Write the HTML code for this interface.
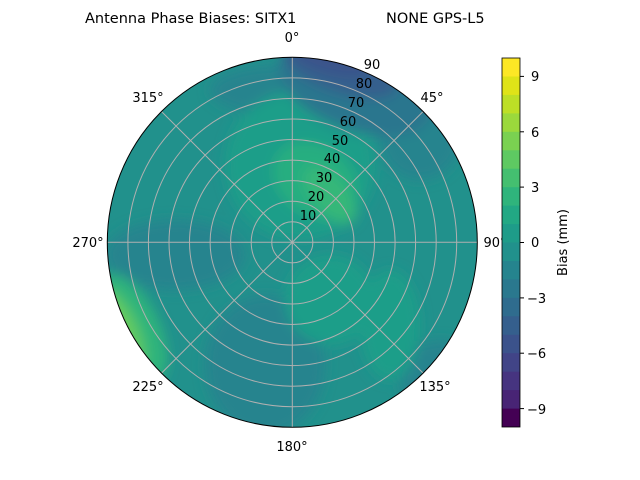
<!DOCTYPE html>
<html><head><style>body{margin:0;background:#fff}svg{display:block}text{font-family:"DejaVu Sans","Liberation Sans",sans-serif;font-size:13px;fill:#000}</style></head><body>
<svg width="640" height="480" viewBox="0 0 640 480">
<defs><clipPath id="c"><circle cx="292.3" cy="242.3" r="185"/></clipPath>
<filter id="b"><feGaussianBlur stdDeviation="6"/></filter></defs>
<g clip-path="url(#c)">
<rect x="100" y="50" width="390" height="390" fill="#21918c"/>
<g filter="url(#b)">
<ellipse cx="265" cy="365" rx="60" ry="70" fill="#25848e"/>
<ellipse cx="175" cy="255" rx="70" ry="35" fill="#25848e"/>
<ellipse cx="280" cy="90" rx="70" ry="25" fill="#25848e"/>
<ellipse cx="420" cy="140" rx="40" ry="40" fill="#25848e"/>
<ellipse cx="440" cy="380" rx="40" ry="40" fill="#25848e"/>
<ellipse cx="300" cy="165" rx="75" ry="75" fill="#1f9e89"/>
<ellipse cx="330" cy="300" rx="45" ry="45" fill="#1f9e89"/>
<ellipse cx="390" cy="325" rx="30" ry="55" fill="#1f9e89"/>
<ellipse cx="315" cy="180" rx="45" ry="35" transform="rotate(35 315 180)" fill="#28ae80"/>
<ellipse cx="330" cy="195" rx="35" ry="18" transform="rotate(50 330 195)" fill="#35b779"/>
<ellipse cx="355" cy="90" rx="80" ry="40" transform="rotate(20 355 90)" fill="#2a768e"/>
<ellipse cx="340" cy="70" rx="60" ry="22" transform="rotate(18 340 70)" fill="#355f8d"/>
<ellipse cx="330" cy="60" rx="40" ry="12" transform="rotate(15 330 60)" fill="#3b528b"/>
<ellipse cx="130" cy="330" rx="30" ry="60" transform="rotate(-25 130 330)" fill="#2fb47c"/>
<ellipse cx="120" cy="330" rx="18" ry="45" transform="rotate(-25 120 330)" fill="#5ec962"/>
<ellipse cx="112" cy="325" rx="10" ry="30" transform="rotate(-25 112 325)" fill="#7ad151"/>
</g>
</g>
<g stroke="#b0b0b0" stroke-width="1" fill="none">
<circle cx="292.3" cy="242.3" r="20.56"/><circle cx="292.3" cy="242.3" r="41.1"/><circle cx="292.3" cy="242.3" r="61.7"/><circle cx="292.3" cy="242.3" r="82.2"/><circle cx="292.3" cy="242.3" r="102.8"/><circle cx="292.3" cy="242.3" r="123.3"/><circle cx="292.3" cy="242.3" r="143.9"/><circle cx="292.3" cy="242.3" r="164.4"/>
<line x1="292.3" y1="57.3" x2="292.3" y2="427.3"/><line x1="107.3" y1="242.3" x2="477.3" y2="242.3"/>
<line x1="161.5" y1="111.5" x2="423.1" y2="373.1"/><line x1="423.1" y1="111.5" x2="161.5" y2="373.1"/>
</g>
<circle cx="292.3" cy="242.3" r="185" fill="none" stroke="#000" stroke-width="1"/>
<g text-anchor="middle">
<text x="292" y="42">0°</text><text x="432" y="102">45°</text><text x="495" y="247">90°</text><text x="435" y="391">135°</text><text x="292" y="451">180°</text><text x="148" y="391">225°</text><text x="88" y="247">270°</text><text x="148" y="102">315°</text>
<text x="308" y="220">10</text><text x="316" y="201">20</text><text x="324" y="182">30</text><text x="332" y="163">40</text><text x="340" y="145">50</text><text x="348" y="126">60</text><text x="356" y="107">70</text><text x="364" y="88">80</text><text x="372" y="69">90</text>
</g>
<text x="85" y="23" style="font-size:14.5px">Antenna Phase Biases: SITX1</text>
<text x="386" y="23" style="font-size:14.5px">NONE GPS-L5</text>
<g>
<rect x="502" y="58" width="18" height="19" fill="#fde725"/>
<rect x="502" y="76.5" width="18" height="19" fill="#dfe318"/>
<rect x="502" y="94.9" width="18" height="19" fill="#bddf26"/>
<rect x="502" y="113.4" width="18" height="19" fill="#9bd93c"/>
<rect x="502" y="131.8" width="18" height="19" fill="#7ad151"/>
<rect x="502" y="150.3" width="18" height="19" fill="#5ec962"/>
<rect x="502" y="168.7" width="18" height="19" fill="#44bf70"/>
<rect x="502" y="187.2" width="18" height="19" fill="#2fb47c"/>
<rect x="502" y="205.6" width="18" height="19" fill="#22a884"/>
<rect x="502" y="224.1" width="18" height="19" fill="#1e9c89"/>
<rect x="502" y="242.5" width="18" height="19" fill="#21918c"/>
<rect x="502" y="261" width="18" height="19" fill="#25848e"/>
<rect x="502" y="279.4" width="18" height="19" fill="#2a788e"/>
<rect x="502" y="297.9" width="18" height="19" fill="#2f6c8e"/>
<rect x="502" y="316.3" width="18" height="19" fill="#355f8d"/>
<rect x="502" y="334.8" width="18" height="19" fill="#3b528b"/>
<rect x="502" y="353.2" width="18" height="19" fill="#414487"/>
<rect x="502" y="371.7" width="18" height="19" fill="#463480"/>
<rect x="502" y="390.1" width="18" height="19" fill="#482475"/>
<rect x="502" y="408.6" width="18" height="18.4" fill="#440154"/>
<rect x="502" y="58" width="18" height="369" fill="none" stroke="#000" stroke-width="0.8"/>
</g>
<g stroke="#000"><line x1="520" y1="76.4" x2="524" y2="76.4"/><line x1="520" y1="131.8" x2="524" y2="131.8"/><line x1="520" y1="187.1" x2="524" y2="187.1"/><line x1="520" y1="242.5" x2="524" y2="242.5"/><line x1="520" y1="297.9" x2="524" y2="297.9"/><line x1="520" y1="353.2" x2="524" y2="353.2"/><line x1="520" y1="408.6" x2="524" y2="408.6"/></g>
<g><text x="531" y="81">9</text><text x="531" y="137">6</text><text x="531" y="192">3</text><text x="531" y="247">0</text><text x="527" y="303">−3</text><text x="527" y="358">−6</text><text x="527" y="414">−9</text></g>
<text transform="translate(567 242.5) rotate(-90)" text-anchor="middle">Bias (mm)</text>
</svg>
</body></html>
